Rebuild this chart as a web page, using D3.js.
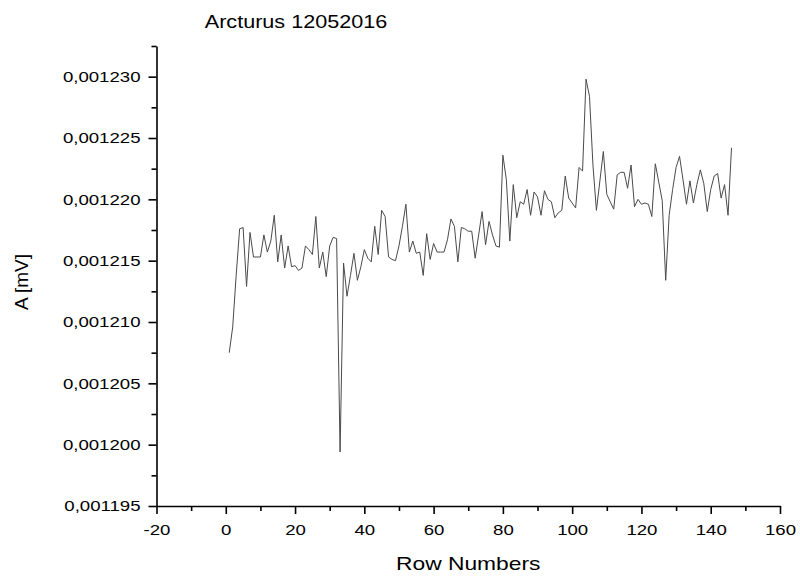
<!DOCTYPE html>
<html>
<head>
<meta charset="utf-8">
<script src="https://cdn.jsdelivr.net/npm/d3@7"></script>
<style>
  body { margin: 0; background: #fff; }
  svg text { font-family: "Liberation Sans", Arial, sans-serif; fill: #000; }
</style>
</head>
<body>
<svg id="chart" width="800" height="578"></svg>
<script>
const chartTitle = 'Arcturus 12052016';
const xTitle = 'Row Numbers';
const yTitle = 'A [mV]';

const xTicks = [-20, 0, 20, 40, 60, 80, 100, 120, 140, 160];
const yTicks = [0.001195, 0.0012, 0.001205, 0.00121, 0.001215, 0.00122, 0.001225, 0.00123];

// amplitude per row, rows 1..146
const amplitude = [
  0.0012075, 0.0012096, 0.0012138, 0.0012176, 0.0012177, 0.0012129, 0.0012173, 0.0012153, 0.0012153, 0.0012153,
  0.0012171, 0.0012157, 0.0012166, 0.0012187, 0.0012149, 0.0012171, 0.0012144, 0.0012162, 0.0012145, 0.0012146,
  0.0012142, 0.0012144, 0.0012162, 0.0012159, 0.0012155, 0.0012186, 0.0012144, 0.0012157, 0.0012137, 0.0012162,
  0.0012169, 0.0012168, 0.0011994, 0.0012148, 0.0012121, 0.0012138, 0.0012156, 0.0012134, 0.0012145, 0.0012159,
  0.0012152, 0.0012149, 0.0012178, 0.0012155, 0.0012191, 0.0012186, 0.0012153, 0.0012151, 0.0012150, 0.0012162,
  0.0012178, 0.0012196, 0.0012157, 0.0012166, 0.0012156, 0.0012157, 0.0012138, 0.0012172, 0.0012151, 0.0012164,
  0.0012157, 0.0012157, 0.0012157, 0.0012167, 0.0012184, 0.0012178, 0.0012149, 0.0012177, 0.0012176, 0.0012174,
  0.0012174, 0.0012152, 0.0012171, 0.0012190, 0.0012163, 0.0012182, 0.0012171, 0.0012162, 0.0012161, 0.0012236,
  0.0012216, 0.0012166, 0.0012212, 0.0012185, 0.0012198, 0.0012196, 0.0012208, 0.0012187, 0.0012206, 0.0012202,
  0.0012187, 0.0012207, 0.0012200, 0.0012198, 0.0012185, 0.0012189, 0.0012191, 0.0012219, 0.0012201, 0.0012197,
  0.0012193, 0.0012226, 0.0012223, 0.0012298, 0.0012284, 0.0012228, 0.0012191, 0.0012215, 0.0012239, 0.0012204,
  0.0012198, 0.0012192, 0.0012220, 0.0012222, 0.0012222, 0.0012209, 0.0012228, 0.0012194, 0.0012200, 0.0012196,
  0.0012197, 0.0012196, 0.0012186, 0.0012229, 0.0012214, 0.0012199, 0.0012134, 0.0012187, 0.0012208, 0.0012226,
  0.0012235, 0.0012216, 0.0012196, 0.0012215, 0.0012197, 0.0012212, 0.0012224, 0.0012213, 0.0012190, 0.0012208,
  0.0012219, 0.0012221, 0.0012201, 0.0012212, 0.0012187, 0.0012242
];

const margin = { top: 46, right: 20, bottom: 72, left: 156.5 },
  width = 800 - margin.left - margin.right,
  height = 578 - margin.top - margin.bottom;

const svg = d3.select('#chart')
  .append('g')
  .attr('transform', `translate(${margin.left}, ${margin.top})`);

const x = d3.scaleLinear().domain([-20, 160]).range([0, width]);
const y = d3.scaleLinear().domain([0.001195, 0.0012325]).range([height, 0]);

const commaFmt = d3.formatLocale({ decimal: ',', thousands: '.', grouping: [3], currency: ['', ''] }).format('.6f');

// minor ticks first, majors on top
const xMinor = xTicks.slice(0, -1).map(d => d + 10);
const yMinor = yTicks.map(d => d + 0.0000025);

svg.append('g')
  .attr('transform', `translate(0, ${height})`)
  .call(d3.axisBottom(x).tickValues(xMinor).tickSize(5).tickSizeOuter(0).tickFormat(''))
  .call(g => g.select('.domain').remove());
svg.append('g')
  .call(d3.axisLeft(y).tickValues(yMinor).tickSize(5).tickSizeOuter(0).tickFormat(''))
  .call(g => g.select('.domain').remove());

// plain hyphen for negatives, like the original
svg.append('g')
  .attr('transform', `translate(0, ${height})`)
  .call(d3.axisBottom(x).tickValues(xTicks).tickSize(8).tickPadding(10).tickSizeOuter(0).tickFormat(d => String(d)));

svg.append('g')
  .call(d3.axisLeft(y).tickValues(yTicks).tickSize(8).tickPadding(8).tickSizeOuter(0).tickFormat(commaFmt));

svg.selectAll('.tick line, .domain').attr('stroke', '#000').attr('stroke-width', 1.6);
svg.selectAll('.tick text')
  .attr('font-size', '15.5px')
  .attr('font-family', '"Liberation Sans", Arial, sans-serif')
  .attr('fill', '#000')
  .classed('stretch', true);

const line = d3.line()
  .x((d, i) => x(i + 1))
  .y(d => y(d));

svg.append('path')
  .datum(amplitude)
  .attr('fill', 'none')
  .attr('stroke', '#4a4a4a')
  .attr('stroke-width', 1)
  .attr('stroke-linejoin', 'round')
  .attr('d', line);

const root = d3.select('#chart');

root.append('text')
  .attr('class', 'stretch')
  .attr('x', 296).attr('y', 28)
  .attr('font-size', '18px')
  .attr('text-anchor', 'middle')
  .text(chartTitle);

root.append('text')
  .attr('class', 'stretch')
  .attr('x', margin.left + width / 2).attr('y', 570)
  .attr('font-size', '19px')
  .attr('text-anchor', 'middle')
  .text(xTitle);

root.append('text')
  .attr('transform', 'rotate(-90)')
  .attr('x', -282).attr('y', 28)
  .attr('font-size', '19px')
  .attr('text-anchor', 'middle')
  .text(yTitle);

// the reference lettering is a bit wider than plain Arial
root.selectAll('text.stretch').each(function () {
  const w = this.getComputedTextLength();
  d3.select(this).attr('textLength', w * 1.2).attr('lengthAdjust', 'spacingAndGlyphs');
});
</script>
</body>
</html>
